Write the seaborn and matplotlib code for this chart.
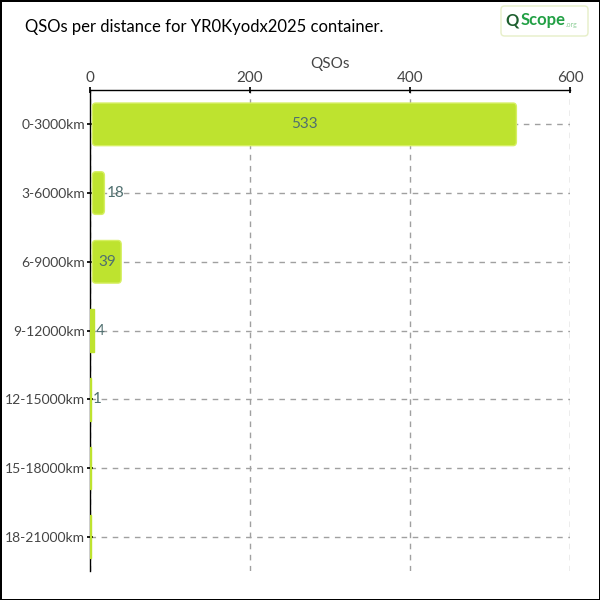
import matplotlib
matplotlib.use("Agg")
import matplotlib.pyplot as plt
import seaborn as sns
import pandas as pd
from matplotlib.patches import FancyBboxPatch, Rectangle

categories = ["0-3000km", "3-6000km", "6-9000km", "9-12000km", "12-15000km", "15-18000km", "18-21000km"]
qsos = [533, 18, 39, 4, 1, 0, 0]
xticks = [0, 200, 400, 600]

df = pd.DataFrame({"distance": categories, "QSOs": qsos})

sns.set_theme(style="white")
plt.rcParams['font.family'] = ['Lato', 'DejaVu Sans']

fig = plt.figure(figsize=(6, 6), dpi=100, facecolor="white",
                 edgecolor="black", linewidth=2)
ax = fig.add_axes([0.15, 0.0483, 0.80, 0.8017])

sns.barplot(data=df, x="QSOs", y="distance", orient="h", ax=ax,
            color="#bee32f", width=0.62, saturation=1)

bar_fill = "#bee32f"
bar_edge = "#d6ef62"
for p in list(ax.patches):
    x, y = p.get_x(), p.get_y()
    w, h = p.get_width(), p.get_height()
    p.set_visible(False)
    if w >= 10:
        rb = FancyBboxPatch((x + 3, y), w - 3, h,
                            boxstyle="round,pad=0,rounding_size=4",
                            mutation_aspect=0.0145,
                            facecolor=bar_fill, edgecolor=bar_edge,
                            linewidth=1, zorder=3)
    else:
        rb = Rectangle((x + 0.5, y), max(w, 0.3), h, facecolor=bar_fill,
                       edgecolor=bar_fill, linewidth=1, zorder=3)
    ax.add_patch(rb)

ax.set_xlim(0, 600)
ax.set_ylim(6.5, -0.5)
ax.set_xticks(xticks)
ax.xaxis.tick_top()
ax.xaxis.set_label_position("top")
ax.set_xlabel("QSOs", fontsize=11, color="#444444", labelpad=2)
ax.set_ylabel("")
ax.tick_params(axis="x", which="both", top=True, bottom=False, length=5,
               direction="inout", color="black", labelsize=11,
               labelcolor="#444444", pad=1)
ax.tick_params(axis="y", left=True, length=5, direction="inout", color="black",
               labelsize=10, labelcolor="#444444", pad=1)

for s in ["right", "bottom"]:
    ax.spines[s].set_visible(False)
for s in ["top", "left"]:
    ax.spines[s].set_color("black")
    ax.spines[s].set_linewidth(1)

ax.grid(True, axis="both", linestyle=(0, (4, 4)), color="#a0a0a0", linewidth=1)
ax.set_axisbelow(True)

for i, v in enumerate(qsos):
    if v <= 0:
        continue
    if v >= 30:
        ax.text(v / 2 + 2, i, str(v), ha="center", va="center", color="#4f6f6f",
                fontsize=11, zorder=5)
    else:
        ax.text(v + 3, i, str(v), ha="left", va="center", color="#4f6f6f",
                fontsize=11, zorder=5)

fig.text(25 / 600, 1 - 27 / 600, "QSOs per distance for YR0Kyodx2025 container.",
         ha="left", va="center", fontsize=12, color="black")

# logo approximation
logo = FancyBboxPatch((501 / 600, 1 - 36 / 600), 87 / 600, 30 / 600,
                      boxstyle="round,pad=0,rounding_size=0.006",
                      transform=fig.transFigure, facecolor="white",
                      edgecolor="#e6efc8", linewidth=1)
fig.patches.append(logo)
fig.text(512 / 600, 1 - 20 / 600, "Q", ha="center", va="center", fontsize=12,
         fontweight="bold", color="#1d5e2e")
fig.text(521 / 600, 1 - 20 / 600, "Scope", ha="left", va="center", fontsize=12,
         fontweight="bold", color="#22a045")
fig.text(566 / 600, 1 - 25 / 600, ".org", ha="left", va="center", fontsize=5,
         color="#8fcf9a")

fig.savefig("out.png", dpi=100, facecolor="white", edgecolor="black")
